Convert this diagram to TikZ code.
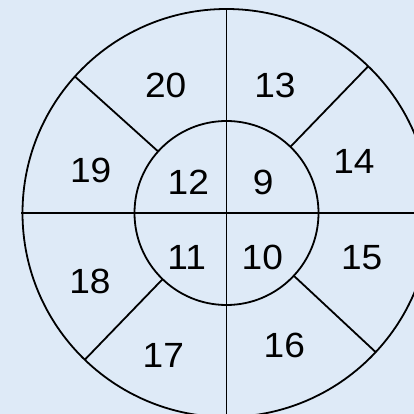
\documentclass[tikz,border=0pt]{standalone}
\usepackage{fontspec}
\setmainfont{Liberation Sans}
\usepackage{xcolor}
\definecolor{bgblue}{RGB}{222,234,247}

\begin{document}
\begin{tikzpicture}[
    x=1pt, y=1pt,
    ring/.style={draw=black, line width=1.8pt},
    segnum/.style={inner sep=0pt, font=\fontsize{35}{40}\selectfont, xscale=1.06, transform shape},
]

% Background and frame
\fill[bgblue] (-226.5,-201) rectangle (187.5,213);
\useasboundingbox (-226.5,-201) rectangle (187.5,213);
\clip (-226.5,-201) rectangle (187.5,213);

% Outer and inner rings
\draw[ring] (0,0) circle (204);
\draw[ring] (0,0) circle (92);

% Axes through the centre
\draw[ring] (-205,0) -- (205,0);
\draw[ring] (0,-205) -- (0,205);

% Spokes between the rings
\foreach \ang in {46,138,226,317}
    \draw[ring] (\ang:92) -- (\ang:204);

% Inner segments
\node[segnum] (s9)  at (36.8,30.3)   {9};
\node[segnum] (s10) at (35.8,-44.7)  {10};
\node[segnum] (s11) at (-39.8,-44.7) {11};
\node[segnum] (s12) at (-38.2,30.3)  {12};

% Outer segments
\node[segnum] (s13) at (48.5,128)    {13};
\node[segnum] (s14) at (127.5,51.3)  {14};
\node[segnum] (s15) at (135.2,-44.3) {15};
\node[segnum] (s16) at (57.8,-132)   {16};
\node[segnum] (s17) at (-63.2,-142)  {17};
\node[segnum] (s18) at (-136.5,-68.7) {18};
\node[segnum] (s19) at (-135.8,42.3) {19};
\node[segnum] (s20) at (-60.8,127.3) {20};

\end{tikzpicture}
\end{document}
